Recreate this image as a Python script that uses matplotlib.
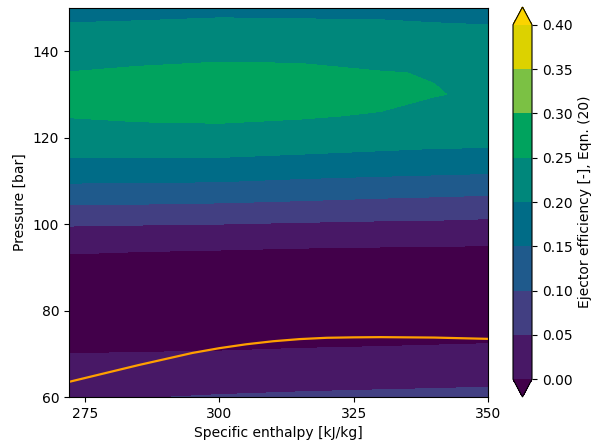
import numpy as np
import matplotlib
matplotlib.use("Agg")
import matplotlib.pyplot as plt

# Grid of the efficiency map: specific enthalpy [kJ/kg] x pressure [bar]
enthalpy = [272, 285, 300, 315, 330, 340, 350]
pressure = [60, 65, 70, 75, 80, 85, 90, 95, 100, 105, 110, 115, 120, 125, 130, 135, 140, 145, 150]

# Ejector efficiency along pressure, one list per enthalpy column
eff_h272 = [0.035, 0.017, 0.000, -0.016, -0.026, -0.027, -0.016, 0.010, 0.054, 0.106,
            0.155, 0.197, 0.226, 0.252, 0.276, 0.251, 0.229, 0.206, 0.187]
eff_h285 = [0.048, 0.023, 0.001, -0.015, -0.025, -0.026, -0.016, 0.006, 0.052, 0.104,
            0.154, 0.198, 0.228, 0.258, 0.283, 0.257, 0.234, 0.209, 0.187]
eff_h300 = [0.053, 0.026, 0.002, -0.014, -0.024, -0.025, -0.016, 0.004, 0.050, 0.101,
            0.152, 0.197, 0.232, 0.259, 0.285, 0.262, 0.238, 0.212, 0.190]
eff_h315 = [0.056, 0.031, 0.004, -0.012, -0.022, -0.024, -0.016, 0.002, 0.046, 0.096,
            0.145, 0.192, 0.226, 0.254, 0.278, 0.260, 0.237, 0.211, 0.189]
eff_h330 = [0.058, 0.034, 0.005, -0.010, -0.020, -0.023, -0.016, 0.001, 0.043, 0.090,
            0.140, 0.187, 0.220, 0.246, 0.265, 0.2515, 0.233, 0.210, 0.188]
eff_h340 = [0.059, 0.036, 0.006, -0.009, -0.019, -0.022, -0.016, 0.0005, 0.042, 0.087,
            0.137, 0.184, 0.216, 0.238, 0.2515, 0.2485, 0.232, 0.207, 0.185]
eff_h350 = [0.060, 0.038, 0.007, -0.008, -0.018, -0.021, -0.016, 0.000, 0.039, 0.083,
            0.134, 0.181, 0.216, 0.235, 0.245, 0.242, 0.229, 0.205, 0.182]

levels = [0.00, 0.05, 0.10, 0.15, 0.20, 0.25, 0.30, 0.35, 0.40]

# Band colours: below 0, eight bands, above 0.40
band_colors = ["#42004a", "#481866", "#423f82", "#1f5a8c", "#006c87",
               "#00877b", "#00a35e", "#7bc144", "#dcd200", "#fbd400"]

# Optimum high-side pressure curve
opt_enthalpy = [272, 276, 280, 285, 290, 295, 300, 305, 310, 315, 320, 325, 330, 335, 340, 345, 350]
opt_pressure = [63.5, 64.7, 65.9, 67.4, 68.8, 70.2, 71.3, 72.2, 72.9, 73.4, 73.7, 73.8,
                73.85, 73.8, 73.75, 73.6, 73.45]

eff = np.column_stack([eff_h272, eff_h285, eff_h300, eff_h315, eff_h330, eff_h340, eff_h350])
H, P = np.meshgrid(enthalpy, pressure)

fig = plt.figure(figsize=(5.91, 4.47), dpi=100)
ax = fig.add_axes([69 / 591, 50 / 447, 419 / 591, 389 / 447])
cax = fig.add_axes([513 / 591, 50 / 447, 19 / 591, 390 / 447])

cs = ax.contourf(H, P, eff, levels=levels, colors=band_colors, extend="both")
ax.plot(opt_enthalpy, opt_pressure, color="#ff9f00", lw=1.6)

ax.set_xlim(272, 350)
ax.set_ylim(60, 150)
ax.set_xticks([275, 300, 325, 350])
ax.set_yticks([60, 80, 100, 120, 140])
ax.set_xlabel("Specific enthalpy [kJ/kg]")
ax.set_ylabel("Pressure [bar]")

cb = fig.colorbar(cs, cax=cax)
cb.set_ticks(levels)
cb.set_label("Ejector efficiency [-], Eqn. (20)")

fig.savefig("out.png", dpi=100)
